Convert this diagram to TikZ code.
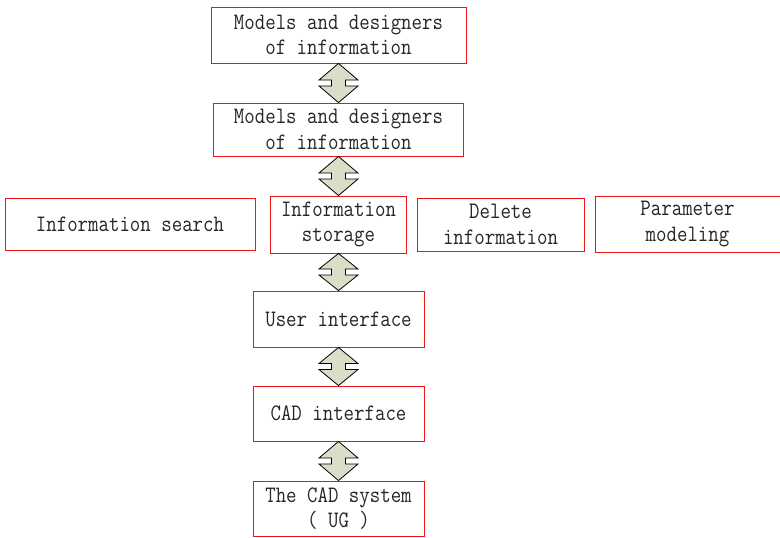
\documentclass[tikz,border=0pt]{standalone}
\usepackage{fontspec}
\usetikzlibrary{calc}

\newfontfamily\boxfont[FakeStretch=0.86]{Latin Modern Mono}

\definecolor{boxred}{RGB}{240,20,20}
\definecolor{arrowfill}{RGB}{218,221,200}

\tikzset{
  box/.style={draw=boxred, line width=0.9pt, inner sep=0pt, align=center,
    font=\boxfont\fontsize{23.6}{25.5}\selectfont, text=black!85},
  dbl/.style={draw=black, line width=0.8pt, fill=arrowfill, line join=miter}
}

% up-down block arrow between two stacked boxes
\newcommand{\updown}[2]{%
  \coordinate (#1-#2) at ($(#1.south)!0.5!(#2.north)$);
  \draw[dbl] (#1.south) -- ($(#1-#2)+(19.5,-3)$) -- ($(#1-#2)+(7,-3)$)
    -- ($(#1-#2)+(7,3)$) -- ($(#1-#2)+(19.5,3)$) -- (#2.north)
    -- ($(#1-#2)+(-19.5,3)$) -- ($(#1-#2)+(-7,3)$) -- ($(#1-#2)+(-7,-3)$)
    -- ($(#1-#2)+(-19.5,-3)$) -- cycle;}

\begin{document}
\begin{tikzpicture}[x=1pt, y=-1pt]
        \useasboundingbox (0,0) rectangle (780,538);

        % Top boxes
        \node[box, minimum width=255pt, minimum height=56pt] (models) at (338.5,35) {Models and designers\\of information};
        \node[box, minimum width=250pt, minimum height=53pt] (designers) at (338.5,129.5) {Models and designers\\of information};

        % Middle row
        \node[box, minimum width=250pt, minimum height=52pt] (search) at (130,224) {Information search};
        \node[box, minimum width=136pt, minimum height=57pt] (storage) at (338.5,224.5) {Information\\storage};
        \node[box, minimum width=167pt, minimum height=53pt] (delete) at (500.5,224.5) {Delete\\information};
        \node[box, minimum width=185pt, minimum height=56pt] (param) at (687.5,224) {Parameter\\modeling};

        % Lower boxes
        \node[box, minimum width=171pt, minimum height=56pt] (user) at (338.5,319) {User interface};
        \node[box, minimum width=171pt, minimum height=55pt] (cad) at (338.5,413.5) {CAD interface};
        \node[box, minimum width=171pt, minimum height=55pt] (ug) at (338.5,508.5) {The CAD system\\( UG )};

        % Arrows
        \updown{models}{designers}
        \updown{designers}{storage}
        \updown{storage}{user}
        \updown{user}{cad}
        \updown{cad}{ug}
\end{tikzpicture}
\end{document}
